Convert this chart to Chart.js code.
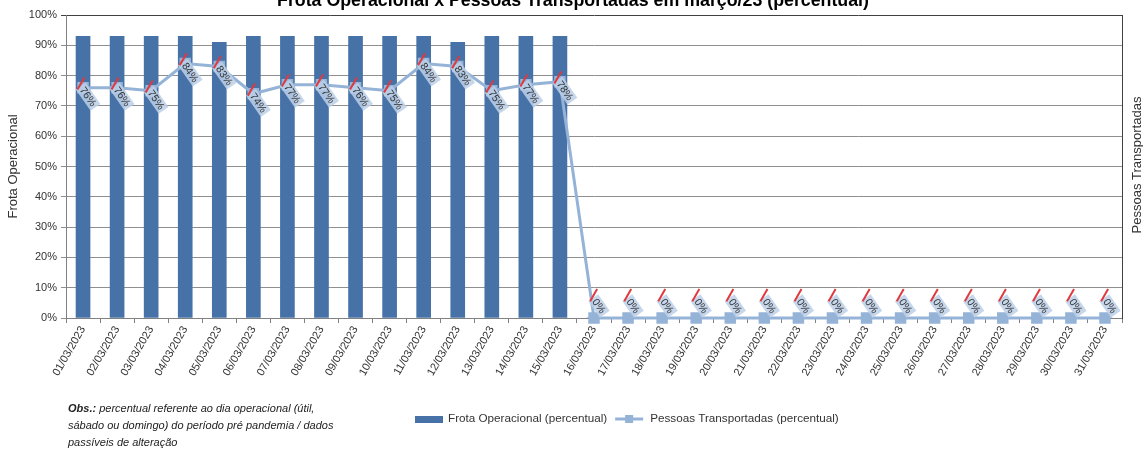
<!DOCTYPE html>
<html lang="pt-BR">
<head>
<meta charset="utf-8">
<title>Frota Operacional x Pessoas Transportadas</title>
<script src="https://cdn.jsdelivr.net/npm/chart.js@4.4.1/dist/chart.umd.min.js"></script>
<style>
  html, body { margin: 0; padding: 0; background: #fff; }
  #wrap { position: relative; width: 1143px; height: 450px; overflow: hidden; }
  #obs {
    position: absolute; left: 68px; top: 400px;
    font: italic 11px "Liberation Sans", Arial, sans-serif;
    line-height: 17px; color: #222;
  }
</style>
</head>
<body>
<div id="wrap">
  <canvas id="chart"></canvas>
  <div id="obs"><b>Obs.:</b> percentual referente ao dia operacional (útil,<br>sábado ou domingo) do período pré pandemia / dados<br>passíveis de alteração</div>
</div>
<script>
const chartTitle = "Frota Operacional x Pessoas Transportadas em março/23 (percentual)";
const categories = [
    "01/03/2023", "02/03/2023", "03/03/2023", "04/03/2023", "05/03/2023", "06/03/2023",
    "07/03/2023", "08/03/2023", "09/03/2023", "10/03/2023", "11/03/2023", "12/03/2023",
    "13/03/2023", "14/03/2023", "15/03/2023", "16/03/2023", "17/03/2023", "18/03/2023",
    "19/03/2023", "20/03/2023", "21/03/2023", "22/03/2023", "23/03/2023", "24/03/2023",
    "25/03/2023", "26/03/2023", "27/03/2023", "28/03/2023", "29/03/2023", "30/03/2023",
    "31/03/2023"
];
// percent values
const frotaValues = [93, 93, 93, 93, 91, 93, 93, 93, 93, 93, 93, 91, 93, 93, 93,
    0, 0, 0, 0, 0, 0, 0, 0, 0, 0, 0, 0, 0, 0, 0, 0];
const pessoasValues = [76, 76, 75, 84, 83, 74, 77, 77, 76, 75, 84, 83, 75, 77, 78,
    0, 0, 0, 0, 0, 0, 0, 0, 0, 0, 0, 0, 0, 0, 0, 0];
const yTicks = [0, 10, 20, 30, 40, 50, 60, 70, 80, 90, 100];

const barColor = "#4672a8";
const lineColor = "#95b3d7";
const textColor = "#333333";

Chart.defaults.font.family = '"Liberation Sans", Arial, sans-serif';
Chart.defaults.color = textColor;

// labels of the line, rotated with a tinted box like the spreadsheet export
const lineLabels = {
    id: "lineLabels",
    afterDatasetsDraw(chart) {
        const ctx = chart.ctx;
        const meta = chart.getDatasetMeta(1);
        const ang = 55 * Math.PI / 180;
        const d = { x: Math.cos(ang), y: Math.sin(ang) };
        const e = { x: 0.5, y: -0.866 };
        ctx.save();
        ctx.font = '10.5px "Liberation Sans", Arial, sans-serif';
        ctx.textAlign = "center";
        ctx.textBaseline = "middle";
        meta.data.forEach((pt, i) => {
            const v = pessoasValues[i];
            const text = v + "%";
            const cx = pt.x + 5;
            const cy = pt.y + (v > 0 ? 9 : -12);
            const w = ctx.measureText(text).width + 5;
            const h = 12;
            ctx.save();
            ctx.translate(cx, cy);
            ctx.rotate(ang);
            ctx.fillStyle = "rgba(188, 208, 233, 0.85)";
            ctx.fillRect(-w / 2, -h / 2, w, h);
            ctx.fillStyle = textColor;
            ctx.fillText(text, 0, 0.5);
            ctx.restore();
            // red tick at the start of the label
            const sx = cx - d.x * (w / 2 + 1);
            const sy = cy - d.y * (w / 2 + 1);
            ctx.strokeStyle = "#e0393e";
            ctx.lineWidth = 2;
            ctx.beginPath();
            ctx.moveTo(sx - e.x * 5, sy - e.y * 5);
            ctx.lineTo(sx + e.x * 9, sy + e.y * 9);
            ctx.stroke();
        });
        ctx.restore();
    }
};

// title, right axis title and legend
const decorations = {
    id: "decorations",
    afterDraw(chart) {
        const ctx = chart.ctx;
        const area = chart.chartArea;
        ctx.save();
        ctx.fillStyle = "#000";
        ctx.font = 'bold 17.8px "Liberation Sans", Arial, sans-serif';
        ctx.textAlign = "center";
        ctx.textBaseline = "alphabetic";
        ctx.fillText(chartTitle, 573, 6);

        ctx.fillStyle = textColor;
        ctx.font = '13px "Liberation Sans", Arial, sans-serif';
        ctx.save();
        ctx.translate(area.right + 15, 165);
        ctx.rotate(-Math.PI / 2);
        ctx.textBaseline = "middle";
        ctx.fillText("Pessoas Transportadas", 0, 0);
        ctx.restore();

        // legend
        ctx.font = '11.7px "Liberation Sans", Arial, sans-serif';
        ctx.textAlign = "left";
        ctx.textBaseline = "middle";
        let x = 415;
        const y = 419;
        const ds = chart.data.datasets;
        ctx.fillStyle = barColor;
        ctx.fillRect(x, y - 3, 28, 7);
        ctx.fillStyle = textColor;
        ctx.fillText(ds[0].label, x + 33, y);
        x += 33 + ctx.measureText(ds[0].label).width + 8;
        ctx.strokeStyle = lineColor;
        ctx.lineWidth = 3;
        ctx.beginPath();
        ctx.moveTo(x, y);
        ctx.lineTo(x + 28, y);
        ctx.stroke();
        ctx.fillStyle = lineColor;
        ctx.fillRect(x + 10, y - 4, 8, 8);
        ctx.fillStyle = textColor;
        ctx.fillText(ds[1].label, x + 35, y);
        ctx.restore();
    }
};

new Chart(document.getElementById("chart"), {
    type: "bar",
    data: {
        labels: categories,
        datasets: [
            {
                type: "bar",
                label: "Frota Operacional (percentual)",
                data: frotaValues,
                backgroundColor: barColor,
                barThickness: 14,
                order: 2,
                yAxisID: "y"
            },
            {
                type: "line",
                label: "Pessoas Transportadas (percentual)",
                data: pessoasValues,
                borderColor: lineColor,
                backgroundColor: lineColor,
                borderWidth: 3,
                pointStyle: "rect",
                pointRadius: 6,
                pointHoverRadius: 6,
                tension: 0,
                clip: false,
                order: 1,
                yAxisID: "y"
            }
        ]
    },
    options: {
        responsive: true,
        maintainAspectRatio: false,
        animation: false,
        layout: { padding: { top: 15, left: 0, right: 0, bottom: 0 } },
        plugins: {
            legend: { display: false },
            title: { display: false },
            tooltip: { enabled: false }
        },
        scales: {
            x: {
                offset: true,
                grid: {
                    offset: true,
                    drawOnChartArea: false,
                    drawTicks: true,
                    tickLength: 5,
                    color: "#808080"
                },
                border: { color: "#808080" },
                ticks: {
                    minRotation: 60,
                    maxRotation: 60,
                    autoSkip: false,
                    padding: 1,
                    font: { size: 11 },
                    color: textColor
                },
                afterFit(scale) { scale.height = 132; }
            },
            y: {
                position: "left",
                min: 0,
                max: 100,
                afterBuildTicks(scale) { scale.ticks = yTicks.map(v => ({ value: v })); },
                ticks: {
                    callback: v => v + "%",
                    font: { size: 11 },
                    color: textColor,
                    padding: 4
                },
                grid: {
                    color: c => (c.tick && c.tick.value === 100 ? "#404040" : "#8f8f8f"),
                    tickLength: 5
                },
                border: { color: "#808080" },
                title: {
                    display: true,
                    text: "Frota Operacional",
                    font: { size: 13 },
                    color: textColor,
                    padding: { top: 6, bottom: 0 }
                },
                afterFit(scale) { scale.width = 66; }
            },
            y2: {
                position: "right",
                min: 0,
                max: 100,
                ticks: { display: false },
                grid: { drawOnChartArea: false, drawTicks: false },
                border: { color: "#404040" },
                afterFit(scale) { scale.width = 21; }
            }
        }
    },
    plugins: [lineLabels, decorations]
});
</script>
</body>
</html>
